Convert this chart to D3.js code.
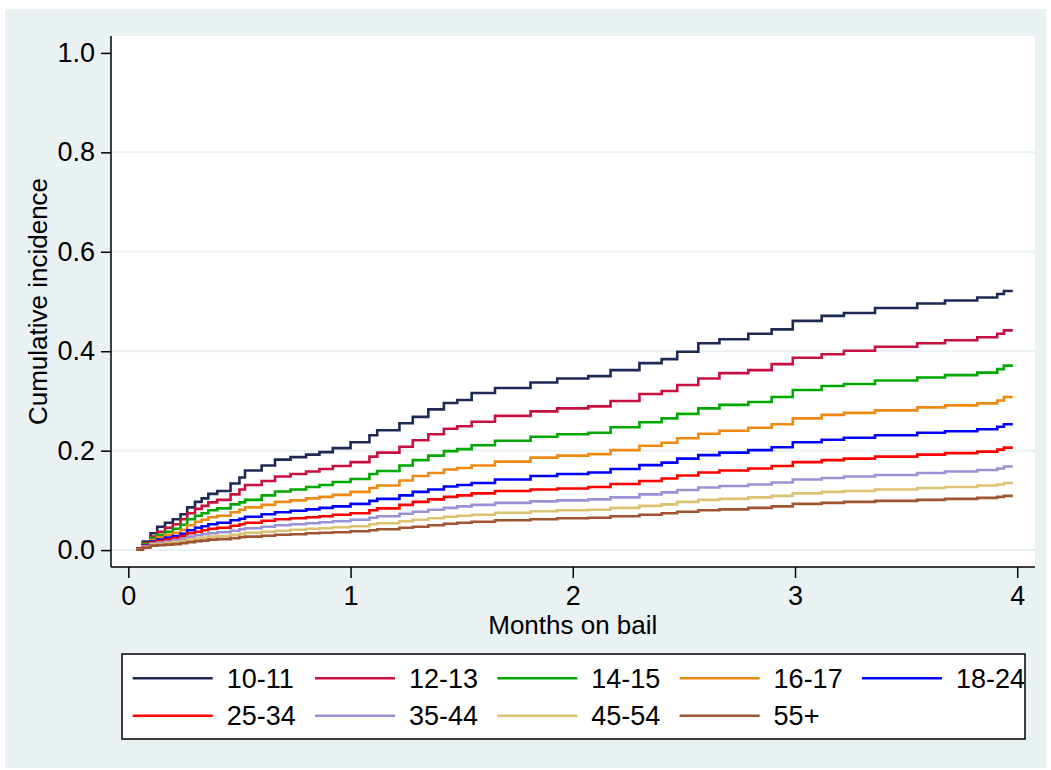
<!DOCTYPE html>
<html>
<head>
<meta charset="utf-8">
<script src="https://cdn.jsdelivr.net/npm/d3@7"></script>
<style>
  body { margin: 0; background: #fff; }
  text { font-family: "Liberation Sans", Arial, sans-serif; fill: #000; }
</style>
</head>
<body>
<div id="canvas"></div>
<script>
// step times (months on bail), shared by all groups
var months = [0.035, 0.065, 0.1, 0.13, 0.165, 0.2, 0.235, 0.265, 0.3, 0.33, 0.36, 0.4, 0.46, 0.5, 0.525,
  0.6, 0.66, 0.73, 0.8, 0.86, 0.92, 1.0, 1.085, 1.12, 1.22, 1.28, 1.35, 1.42, 1.48, 1.545, 1.65, 1.81,
  1.93, 2.07, 2.17, 2.3, 2.4, 2.47, 2.565, 2.66, 2.79, 2.895, 2.99, 3.12, 3.22, 3.36, 3.55, 3.675,
  3.82, 3.91, 3.94, 3.98];

var groups = ["10-11", "12-13", "14-15", "16-17", "18-24", "25-34", "35-44", "45-54", "55+"];
var colors = ["#1c2a55", "#c81040", "#00a800", "#ee8a12", "#0000ff", "#ff0000", "#9a92d6", "#ddc271", "#a05530"];

// cumulative incidence
var inc1011 = [0.003, 0.017, 0.034, 0.047, 0.055, 0.062, 0.072, 0.086, 0.097, 0.104, 0.113, 0.119, 0.134, 0.146, 0.160,
  0.170, 0.182, 0.187, 0.192, 0.197, 0.205, 0.217, 0.231, 0.241, 0.255, 0.268, 0.283, 0.296, 0.302, 0.316, 0.326, 0.337,
  0.345, 0.350, 0.362, 0.376, 0.384, 0.399, 0.416, 0.424, 0.435, 0.444, 0.461, 0.471, 0.477, 0.487, 0.496, 0.502,
  0.508, 0.515, 0.521, 0.521];
var inc1213 = [0.003, 0.014, 0.027, 0.037, 0.045, 0.052, 0.062, 0.074, 0.083, 0.089, 0.096, 0.101, 0.112, 0.122, 0.131,
  0.139, 0.148, 0.153, 0.158, 0.163, 0.169, 0.177, 0.188, 0.196, 0.208, 0.221, 0.233, 0.244, 0.249, 0.258, 0.270, 0.279,
  0.285, 0.289, 0.300, 0.314, 0.320, 0.332, 0.345, 0.356, 0.362, 0.374, 0.387, 0.394, 0.401, 0.409, 0.416, 0.422,
  0.428, 0.435, 0.442, 0.442];
var inc1415 = [0.002, 0.012, 0.024, 0.031, 0.037, 0.043, 0.051, 0.062, 0.069, 0.074, 0.080, 0.084, 0.092, 0.096, 0.101,
  0.110, 0.118, 0.122, 0.127, 0.131, 0.137, 0.143, 0.153, 0.159, 0.170, 0.181, 0.190, 0.199, 0.203, 0.211, 0.220, 0.228,
  0.233, 0.236, 0.247, 0.257, 0.265, 0.274, 0.285, 0.292, 0.298, 0.308, 0.322, 0.330, 0.334, 0.341, 0.347, 0.352,
  0.357, 0.364, 0.371, 0.371];
var inc1617 = [0.002, 0.010, 0.020, 0.026, 0.031, 0.035, 0.041, 0.050, 0.057, 0.061, 0.066, 0.069, 0.076, 0.081, 0.086,
  0.091, 0.097, 0.100, 0.104, 0.107, 0.111, 0.117, 0.125, 0.130, 0.140, 0.149, 0.155, 0.162, 0.165, 0.170, 0.178, 0.186,
  0.190, 0.193, 0.201, 0.210, 0.216, 0.225, 0.234, 0.240, 0.246, 0.253, 0.265, 0.272, 0.276, 0.281, 0.287, 0.291,
  0.295, 0.301, 0.308, 0.308];
var inc1824 = [0.002, 0.009, 0.017, 0.021, 0.025, 0.028, 0.033, 0.040, 0.045, 0.048, 0.052, 0.055, 0.060, 0.063, 0.067,
  0.072, 0.076, 0.079, 0.082, 0.085, 0.088, 0.093, 0.099, 0.103, 0.110, 0.117, 0.122, 0.128, 0.131, 0.135, 0.142, 0.149,
  0.153, 0.156, 0.163, 0.171, 0.176, 0.184, 0.191, 0.196, 0.201, 0.207, 0.217, 0.222, 0.226, 0.231, 0.236, 0.239,
  0.243, 0.248, 0.253, 0.253];
var inc2534 = [0.002, 0.008, 0.015, 0.018, 0.021, 0.024, 0.028, 0.034, 0.037, 0.040, 0.043, 0.045, 0.049, 0.052, 0.055,
  0.059, 0.062, 0.064, 0.066, 0.068, 0.071, 0.074, 0.080, 0.084, 0.091, 0.097, 0.102, 0.107, 0.110, 0.114, 0.119, 0.122,
  0.124, 0.127, 0.133, 0.139, 0.144, 0.150, 0.156, 0.160, 0.164, 0.169, 0.177, 0.181, 0.184, 0.188, 0.192, 0.195,
  0.198, 0.202, 0.206, 0.206];
var inc3544 = [0.001, 0.007, 0.013, 0.015, 0.017, 0.020, 0.023, 0.027, 0.030, 0.032, 0.034, 0.036, 0.039, 0.042, 0.044,
  0.047, 0.050, 0.052, 0.054, 0.056, 0.058, 0.061, 0.065, 0.068, 0.073, 0.077, 0.081, 0.085, 0.088, 0.091, 0.095, 0.098,
  0.100, 0.102, 0.106, 0.112, 0.116, 0.121, 0.126, 0.129, 0.132, 0.136, 0.142, 0.145, 0.148, 0.151, 0.155, 0.158,
  0.161, 0.164, 0.168, 0.168];
var inc4554 = [0.001, 0.006, 0.011, 0.012, 0.014, 0.016, 0.018, 0.021, 0.023, 0.025, 0.027, 0.028, 0.031, 0.033, 0.035,
  0.037, 0.039, 0.041, 0.043, 0.044, 0.046, 0.048, 0.052, 0.054, 0.058, 0.061, 0.064, 0.067, 0.069, 0.071, 0.075, 0.078,
  0.080, 0.081, 0.085, 0.089, 0.092, 0.097, 0.101, 0.103, 0.106, 0.109, 0.114, 0.117, 0.119, 0.122, 0.125, 0.127,
  0.130, 0.132, 0.135, 0.135];
var inc55 = [0.001, 0.005, 0.009, 0.010, 0.011, 0.012, 0.014, 0.016, 0.018, 0.019, 0.021, 0.022, 0.024, 0.026, 0.027,
  0.029, 0.031, 0.032, 0.034, 0.035, 0.036, 0.038, 0.040, 0.042, 0.045, 0.047, 0.050, 0.053, 0.055, 0.057, 0.060, 0.062,
  0.064, 0.065, 0.068, 0.071, 0.074, 0.077, 0.080, 0.082, 0.085, 0.088, 0.093, 0.095, 0.097, 0.099, 0.101, 0.103,
  0.105, 0.107, 0.109, 0.109];

var series = [inc1011, inc1213, inc1415, inc1617, inc1824, inc2534, inc3544, inc4554, inc55];

var xTicks = [0, 1, 2, 3, 4];
var yTicks = [0, 0.2, 0.4, 0.6, 0.8, 1.0];

var W = 1051, H = 770;
var m = {t: 36, r: 16, b: 203, l: 111};

var svg = d3.select('#canvas')
    .append('svg')
    .attr('width', W)
    .attr('height', H);

// outer graph region
svg.append('rect')
    .attr('x', 5).attr('y', 9)
    .attr('width', 1041).attr('height', 759)
    .style('fill', '#eaf1f3');

// plot region
svg.append('rect')
    .attr('x', m.l).attr('y', m.t)
    .attr('width', W - m.l - m.r).attr('height', H - m.t - m.b)
    .style('fill', '#fff');

var x = d3.scaleLinear().domain([-0.078, 4.08]).range([m.l, W - m.r]);
var y = d3.scaleLinear().domain([-0.034, 1.034]).range([H - m.b, m.t]);

// gridlines (none at the top tick)
svg.append('g').selectAll('line')
    .data(yTicks.filter(function(d){ return d < 1; }))
    .enter().append('line')
    .attr('x1', m.l).attr('x2', W - m.r)
    .attr('y1', function(d){ return y(d); })
    .attr('y2', function(d){ return y(d); })
    .style('stroke', '#eaf1f3')
    .style('stroke-width', 2);

// curves
var line = d3.line()
    .x(function(d){ return x(d[0]); })
    .y(function(d){ return y(d[1]); })
    .curve(d3.curveStepAfter);

svg.append('g').selectAll('path')
    .data(series)
    .enter().append('path')
    .attr('d', function(s){ return line(months.map(function(t, i){ return [t, s[i]]; })); })
    .style('fill', 'none')
    .style('stroke', function(d, i){ return colors[i]; })
    .style('stroke-width', 2.6);

// axes
var yAxis = svg.append('g')
    .attr('transform', 'translate(' + m.l + ',0)')
    .call(d3.axisLeft(y).tickValues(yTicks).tickFormat(d3.format('.1f')).tickSize(10).tickPadding(6));

var xAxis = svg.append('g')
    .attr('transform', 'translate(0,' + (H - m.b) + ')')
    .call(d3.axisBottom(x).tickValues(xTicks).tickFormat(d3.format('d')).tickSize(11).tickPadding(8));

[xAxis, yAxis].forEach(function(a){
    a.select('.domain').style('stroke', '#000').style('stroke-width', 1.5);
    a.selectAll('.tick line').style('stroke', '#000').style('stroke-width', 1.5);
    a.selectAll('.tick text').style('font-size', '27px').style('font-family', '"Liberation Sans", Arial, sans-serif');
});
// keep only the axis line, no end caps
yAxis.select('.domain').attr('d', 'M0,' + m.t + 'V' + (H - m.b));
xAxis.select('.domain').attr('d', 'M' + m.l + ',0H' + (W - m.r));

// axis titles
svg.append('text')
    .attr('x', x(2)).attr('y', 634)
    .attr('text-anchor', 'middle')
    .style('font-size', '26px')
    .text('Months on bail');

svg.append('text')
    .attr('transform', 'translate(47,' + y(0.5) + ') rotate(-90)')
    .attr('text-anchor', 'middle')
    .style('font-size', '26px')
    .text('Cumulative incidence');

// legend
var leg = svg.append('g');
leg.append('rect')
    .attr('x', 122).attr('y', 654)
    .attr('width', 903).attr('height', 85)
    .style('fill', '#fff')
    .style('stroke', '#000')
    .style('stroke-width', 1.5);

var items = leg.selectAll('.item')
    .data(groups)
    .enter().append('g').attr('class', 'item')
    .attr('transform', function(d, i){
        return 'translate(' + (132.7 + (i % 5) * 182.3) + ',' + (i < 5 ? 678.3 : 715.7) + ')';
    });
items.append('line')
    .attr('x1', 0).attr('x2', 80)
    .style('stroke', function(d, i){ return colors[i]; })
    .style('stroke-width', 2.6);
items.append('text')
    .attr('x', 94)
    .attr('dy', '0.35em')
    .style('font-size', '27px')
    .text(function(d){ return d; });
</script>
</body>
</html>
